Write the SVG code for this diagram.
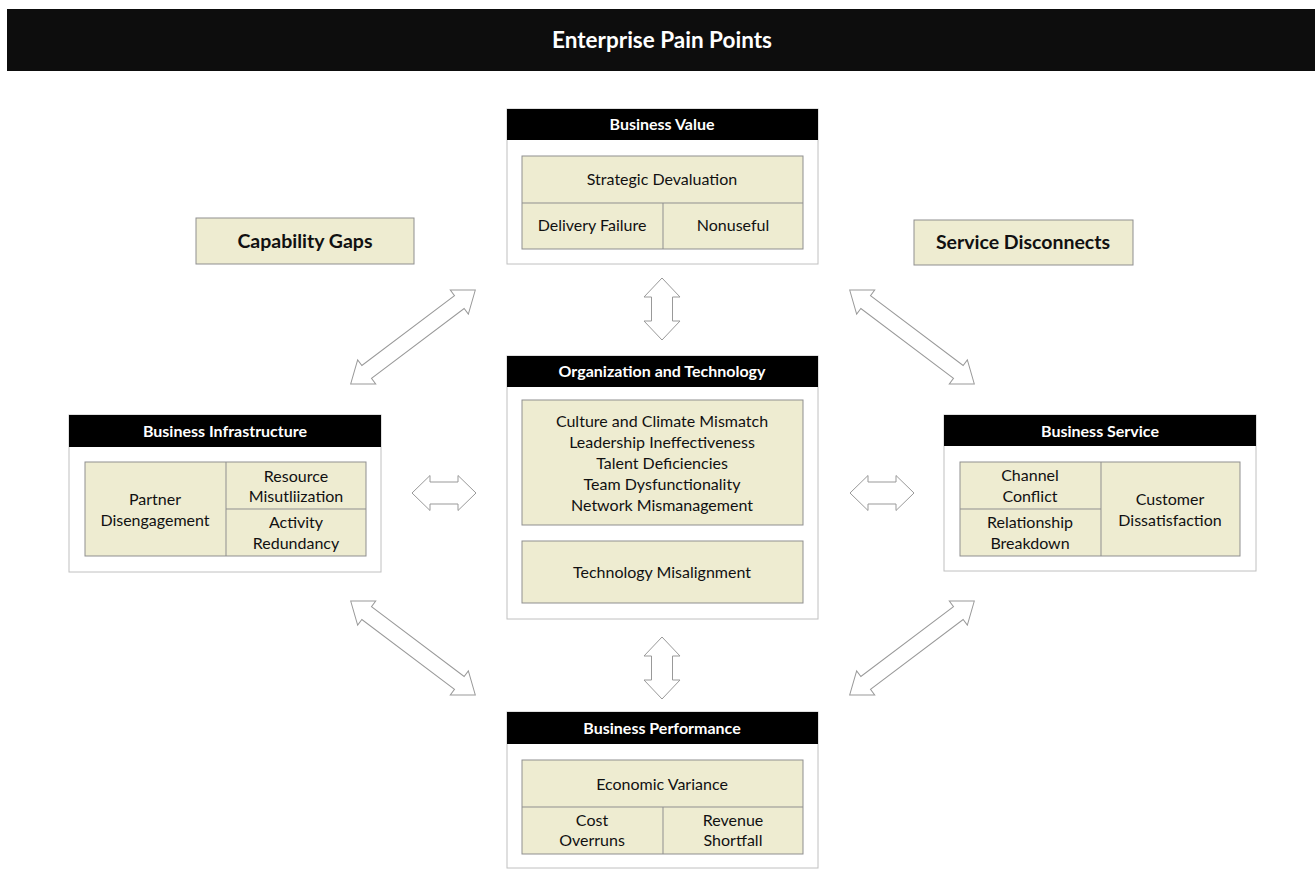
<svg xmlns="http://www.w3.org/2000/svg" width="1315" height="874" viewBox="0 0 1315 874">
<style>
.outer{fill:#fff;stroke:#c0c0c0;stroke-width:1}
.hdr{fill:#000}
.cell{fill:#eeecd1;stroke:#8f8f8f;stroke-width:1}
.ln{stroke:#8f8f8f;stroke-width:1}
.ht{font-family:Lato,"Liberation Sans",sans-serif;font-weight:bold;font-size:16px;fill:#fff;text-anchor:middle}
.t{font-family:Lato,"Liberation Sans",sans-serif;font-size:16px;fill:#111;text-anchor:middle}
.bt{font-family:Lato,"Liberation Sans",sans-serif;font-weight:bold;font-size:19.5px;fill:#111;text-anchor:middle}
.arr{fill:#fff;stroke:#999;stroke-width:1}
</style>
<defs>
<path id="diag" d="M-78,0 L-58,-15 L-58,-8 L58,-8 L58,-15 L78,0 L58,15 L58,8 L-58,8 L-58,15 Z"/>
<path id="horz" d="M-32,0 L-14,-17.5 L-14,-11 L14,-11 L14,-17.5 L32,0 L14,17.5 L14,11 L-14,11 L-14,17.5 Z"/>
<path id="vert" d="M0,-31 L18,-12 L10.5,-12 L10.5,12 L18,12 L0,31 L-18,12 L-10.5,12 L-10.5,-12 L-18,-12 Z"/>
</defs>
<g id="title">
<rect x="7" y="9" width="1308" height="62" fill="#0d0d0d"/>
<text x="662" y="48" font-family="Lato,'Liberation Sans',sans-serif" font-weight="bold" font-size="22.5" fill="#fff" text-anchor="middle">Enterprise Pain Points</text>
</g>
<g id="connectors">
<use href="#vert" class="arr" x="662" y="309"/>
<use href="#vert" class="arr" x="662" y="668"/>
<use href="#horz" class="arr" x="444" y="493"/>
<use href="#horz" class="arr" x="882" y="493"/>
<use href="#diag" class="arr" transform="translate(413,337) rotate(-37)"/>
<use href="#diag" class="arr" transform="translate(912,337) rotate(37)"/>
<use href="#diag" class="arr" transform="translate(413,648) rotate(37)"/>
<use href="#diag" class="arr" transform="translate(912,648) rotate(-37)"/>
</g>
<g id="capability-gaps">
<rect class="cell" x="196" y="218" width="218" height="46"/>
<text class="bt" x="305" y="248">Capability Gaps</text>
</g>
<g id="service-disconnects">
<rect class="cell" x="914" y="220" width="219" height="45"/>
<text class="bt" x="1023" y="249">Service Disconnects</text>
</g>
<g id="business-value">
<rect class="outer" x="507" y="109" width="311" height="155"/>
<rect class="hdr" x="507" y="109" width="311" height="31"/>
<text class="ht" x="662" y="130">Business Value</text>
<rect class="cell" x="522" y="156" width="281" height="93"/>
<line class="ln" x1="522" y1="203" x2="803" y2="203"/>
<line class="ln" x1="663" y1="203" x2="663" y2="249"/>
<text class="t" x="662" y="185">Strategic Devaluation</text>
<text class="t" x="592" y="231">Delivery Failure</text>
<text class="t" x="733" y="231">Nonuseful</text>
</g>
<g id="organization-technology">
<rect class="outer" x="507" y="356" width="311" height="263"/>
<rect class="hdr" x="507" y="356" width="311" height="31"/>
<text class="ht" x="662" y="377">Organization and Technology</text>
<rect class="cell" x="522" y="400" width="281" height="125"/>
<text class="t" x="662" y="427">Culture and Climate Mismatch</text>
<text class="t" x="662" y="448">Leadership Ineffectiveness</text>
<text class="t" x="662" y="469">Talent Deficiencies</text>
<text class="t" x="662" y="490">Team Dysfunctionality</text>
<text class="t" x="662" y="511">Network Mismanagement</text>
<rect class="cell" x="522" y="541" width="281" height="62"/>
<text class="t" x="662" y="578">Technology Misalignment</text>
</g>
<g id="business-infrastructure">
<rect class="outer" x="69" y="415" width="312" height="157"/>
<rect class="hdr" x="69" y="415" width="312" height="32"/>
<text class="ht" x="225" y="437">Business Infrastructure</text>
<rect class="cell" x="85" y="462" width="281" height="94"/>
<line class="ln" x1="226" y1="462" x2="226" y2="556"/>
<line class="ln" x1="226" y1="509" x2="366" y2="509"/>
<text class="t" x="155" y="505">Partner</text>
<text class="t" x="155" y="526">Disengagement</text>
<text class="t" x="296" y="482">Resource</text>
<text class="t" x="296" y="502">Misutliization</text>
<text class="t" x="296" y="528">Activity</text>
<text class="t" x="296" y="549">Redundancy</text>
</g>
<g id="business-service">
<rect class="outer" x="944" y="415" width="312" height="156"/>
<rect class="hdr" x="944" y="415" width="312" height="31"/>
<text class="ht" x="1100" y="437">Business Service</text>
<rect class="cell" x="960" y="462" width="280" height="94"/>
<line class="ln" x1="1101" y1="462" x2="1101" y2="556"/>
<line class="ln" x1="960" y1="509" x2="1101" y2="509"/>
<text class="t" x="1030" y="481">Channel</text>
<text class="t" x="1030" y="502">Conflict</text>
<text class="t" x="1030" y="528">Relationship</text>
<text class="t" x="1030" y="549">Breakdown</text>
<text class="t" x="1170" y="505">Customer</text>
<text class="t" x="1170" y="526">Dissatisfaction</text>
</g>
<g id="business-performance">
<rect class="outer" x="507" y="712" width="311" height="156"/>
<rect class="hdr" x="507" y="712" width="311" height="32"/>
<text class="ht" x="662" y="734">Business Performance</text>
<rect class="cell" x="522" y="760" width="281" height="94"/>
<line class="ln" x1="522" y1="807" x2="803" y2="807"/>
<line class="ln" x1="663" y1="807" x2="663" y2="854"/>
<text class="t" x="662" y="790">Economic Variance</text>
<text class="t" x="592" y="826">Cost</text>
<text class="t" x="592" y="846">Overruns</text>
<text class="t" x="733" y="826">Revenue</text>
<text class="t" x="733" y="846">Shortfall</text>
</g>
</svg>
